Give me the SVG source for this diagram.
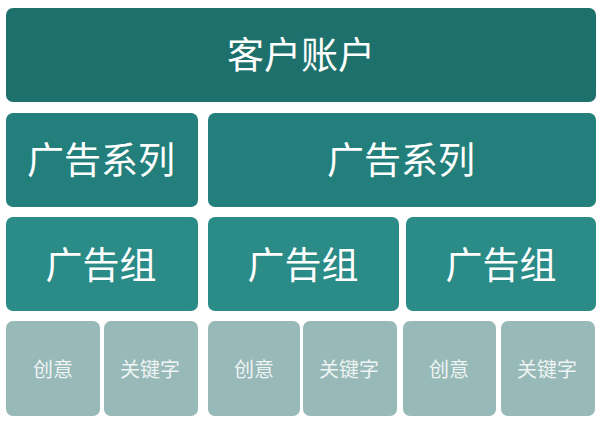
<svg xmlns="http://www.w3.org/2000/svg" width="600" height="424" viewBox="0 0 600 424">
<style>
rect{rx:7px;ry:7px}
.l1{fill:#1e706c}
.l2{fill:#237f7b}
.l3{fill:#2b8b87}
.l4{fill:#97b9b7}
text{font-family:"Noto Sans CJK SC","Noto Sans",sans-serif;text-anchor:middle;dominant-baseline:central;fill:#ffffff}
.big{font-size:37px}
.small{font-size:20px;fill:#eef4f4}
</style>
<rect x="0" y="0" width="600" height="424" fill="#ffffff" rx="0" ry="0" style="rx:0;ry:0"/>
<g id="account"><rect class="l1" x="6" y="8" width="590" height="94"/><text class="big" x="301" y="53">客户账户</text></g>
<g id="campaign1"><rect class="l2" x="6" y="113" width="192" height="94"/><text class="big" x="101" y="158">广告系列</text></g>
<g id="campaign2"><rect class="l2" x="208" y="113" width="388" height="94"/><text class="big" x="401" y="158">广告系列</text></g>
<g id="adgroup1"><rect class="l3" x="6" y="217" width="192" height="94"/><text class="big" x="101" y="263">广告组</text></g>
<g id="adgroup2"><rect class="l3" x="208" y="217" width="191" height="94"/><text class="big" x="303" y="263">广告组</text></g>
<g id="adgroup3"><rect class="l3" x="406" y="217" width="190" height="94"/><text class="big" x="501" y="263">广告组</text></g>
<g id="creative1"><rect class="l4" x="6" y="321" width="94" height="95"/><text class="small" x="53" y="368">创意</text></g>
<g id="keyword1"><rect class="l4" x="104" y="321" width="94" height="95"/><text class="small" x="150" y="368">关键字</text></g>
<g id="creative2"><rect class="l4" x="208" y="321" width="92" height="95"/><text class="small" x="254" y="368">创意</text></g>
<g id="keyword2"><rect class="l4" x="303" y="321" width="94" height="95"/><text class="small" x="349" y="368">关键字</text></g>
<g id="creative3"><rect class="l4" x="403" y="321" width="93" height="95"/><text class="small" x="449" y="368">创意</text></g>
<g id="keyword3"><rect class="l4" x="501" y="321" width="94" height="95"/><text class="small" x="547" y="368">关键字</text></g>
<g id="connectors"></g>
</svg>
